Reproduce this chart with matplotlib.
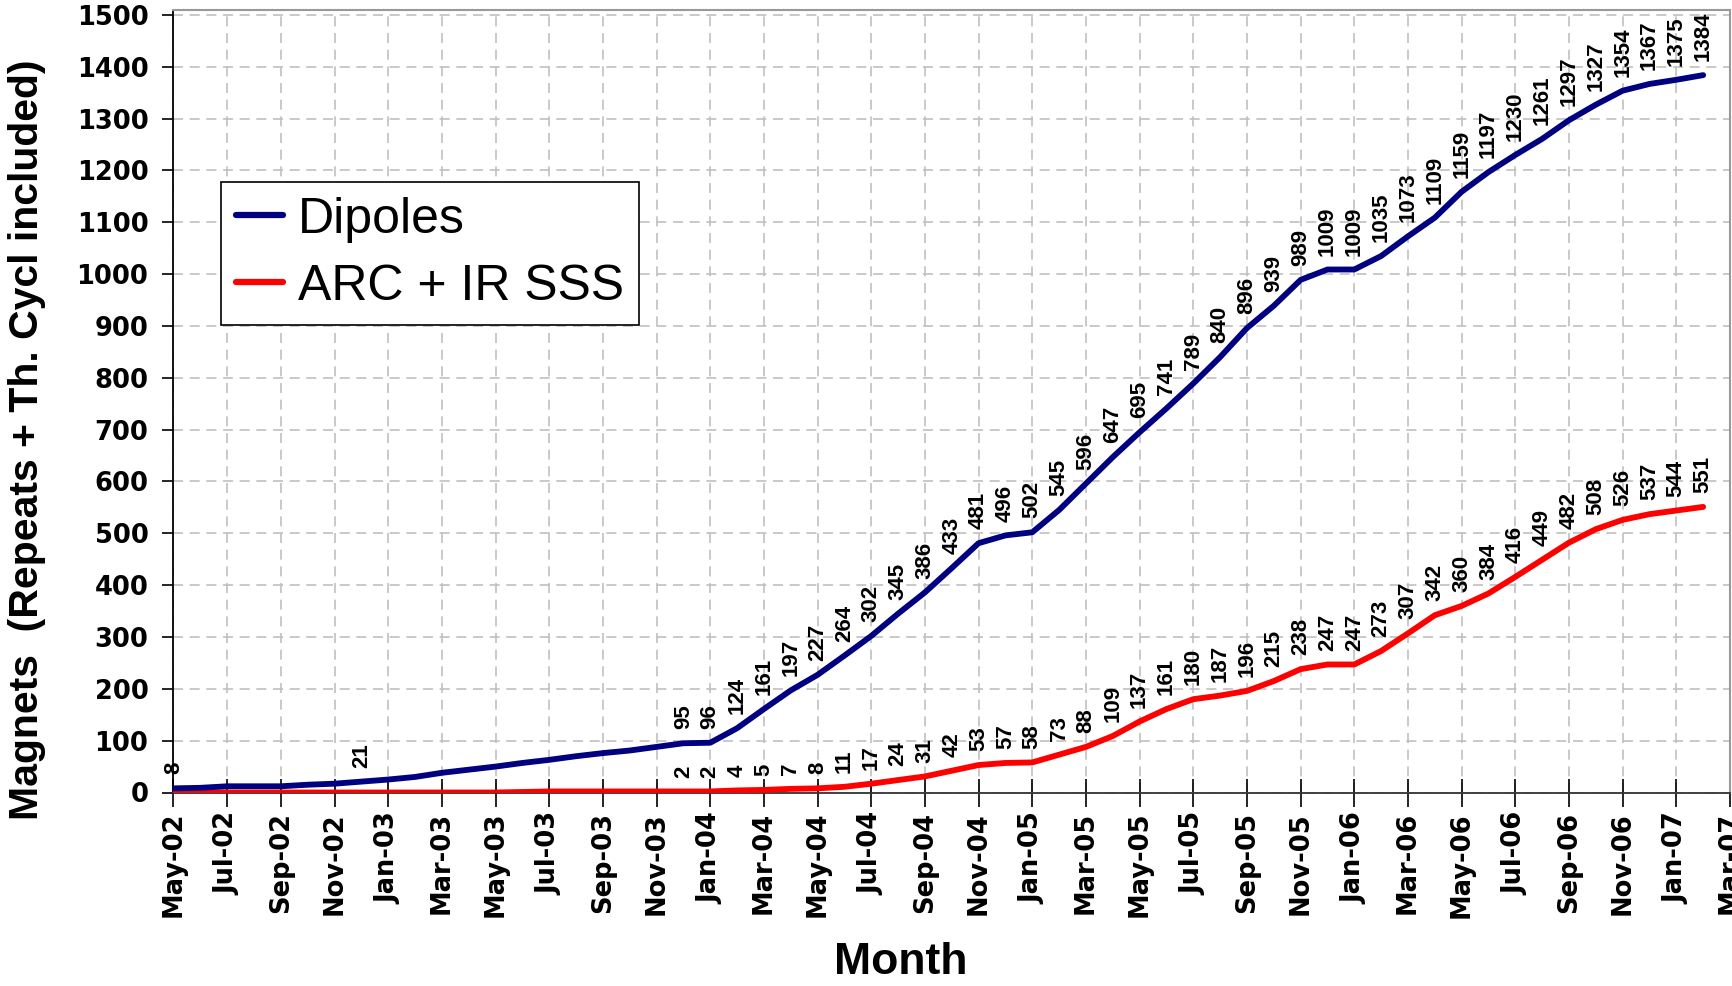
import numpy as np
import pandas as pd
import matplotlib
matplotlib.use("Agg")
import matplotlib.pyplot as plt

# monthly cumulative counts, May-02 .. Feb-07
START_MONTH = "2002-05-01"
dipoles = [8, 9, 12, 12, 12, 15, 17, 21,
           25, 30, 38, 44, 50, 57, 63, 70, 76, 81, 88, 95,
           96, 124, 161, 197, 227, 264, 302, 345, 386, 433, 481, 496,
           502, 545, 596, 647, 695, 741, 789, 840, 896, 939, 989, 1009,
           1009, 1035, 1073, 1109, 1159, 1197, 1230, 1261, 1297, 1327, 1354, 1367,
           1375, 1384]
arc_ir_sss = [0, 0, 0, 0, 0, 0, 0, 0,
              0, 0, 0, 0, 0, 1, 2, 2, 2, 2, 2, 2,
              2, 4, 5, 7, 8, 11, 17, 24, 31, 42, 53, 57,
              58, 73, 88, 109, 137, 161, 180, 187, 196, 215, 238, 247,
              247, 273, 307, 342, 360, 384, 416, 449, 482, 508, 526, 537,
              544, 551]
# which months carry a value label
dipole_labelled = [0, 7] + list(range(19, 58))
arc_labelled = list(range(19, 58))

N_MONTHS_AXIS = 58  # axis runs May-02 .. Mar-07
month_names = pd.date_range(START_MONTH, periods=N_MONTHS_AXIS + 1, freq="MS").strftime("%b-%y")

BLUE = "#000080"
RED = "#ff0000"
NARROW = ["Liberation Sans Narrow", "Liberation Sans", "DejaVu Sans"]


def label_points(ax, x, y, idx):
    for i in idx:
        ax.annotate(str(y[i]), (x[i], y[i]), xytext=(0, 10),
                    textcoords="offset points", rotation=90, ha="center", va="bottom",
                    fontsize=16, fontweight="bold", family="Liberation Sans",
                    annotation_clip=False)


def main():
    fig = plt.figure(figsize=(17.33, 9.86), dpi=100)
    ax = fig.add_axes([173.5 / 1733, 1 - 792.5 / 986, (1730 - 173.5) / 1733, (792.5 - 10) / 986])

    x = np.arange(len(dipoles))
    l1, = ax.plot(x, dipoles, color=BLUE, lw=4.2, solid_joinstyle="round",
                  solid_capstyle="round", label="Dipoles", zorder=4)
    l2, = ax.plot(x, arc_ir_sss, color=RED, lw=4.2, solid_joinstyle="round",
                  solid_capstyle="round", label="ARC + IR SSS", zorder=3)

    label_points(ax, x, dipoles, dipole_labelled)
    label_points(ax, x, arc_ir_sss, arc_labelled)

    ax.set_xlim(0, N_MONTHS_AXIS)
    ax.set_ylim(0, 1500 + 5 / 0.5187)
    ax.set_yticks(np.arange(0, 1501, 100))
    ax.set_xticks(np.arange(0, N_MONTHS_AXIS + 1, 2))
    ax.set_xticklabels(month_names[::2], rotation=90)
    ax.tick_params(axis="x", direction="inout", length=20, width=1.2, pad=4,
                   labelsize=18.5, color="black")
    ax.tick_params(axis="y", direction="out", length=8, width=1.2, pad=10,
                   labelsize=18.5, color="black")
    for lab in ax.get_xticklabels() + ax.get_yticklabels():
        lab.set_fontweight("bold")
        lab.set_family("DejaVu Sans")

    ax.grid(True, color="#c0c0c0", lw=1.2, linestyle=(0, (6, 4)))
    ax.set_axisbelow(True)
    ax.spines["left"].set_color("black")
    ax.spines["left"].set_linewidth(1.3)
    ax.spines["bottom"].set_color("#333333")
    ax.spines["bottom"].set_linewidth(1.3)
    for s in ("top", "right"):
        ax.spines[s].set_color("#999999")
        ax.spines[s].set_linewidth(1.5)

    fig.text(27 / 1733, 1 - 440 / 986, "Magnets  (Repeats + Th. Cycl included)",
             rotation=90, ha="center", va="center", fontsize=29.5, fontweight="bold",
             family=NARROW)
    fig.text(901 / 1733, 1 - 962 / 986, "Month", ha="center", va="center",
             fontsize=32, fontweight="bold", family=NARROW)

    leg = ax.legend(handles=[l1, l2], loc="upper left",
                    bbox_to_anchor=(220.7 / 1733, 1 - 181.7 / 986),
                    bbox_transform=fig.transFigure,
                    prop={"family": "Liberation Sans", "size": 36},
                    handlelength=0.95, handletextpad=0.3, labelspacing=0.42,
                    borderpad=0.3, borderaxespad=0, fancybox=False,
                    framealpha=1, edgecolor="black")
    leg.get_frame().set_linewidth(1.2)
    for h in leg.get_lines():
        h.set_linewidth(4.5)

    fig.savefig("out.png", dpi=100)
    plt.close(fig)


if __name__ == "__main__":
    main()
